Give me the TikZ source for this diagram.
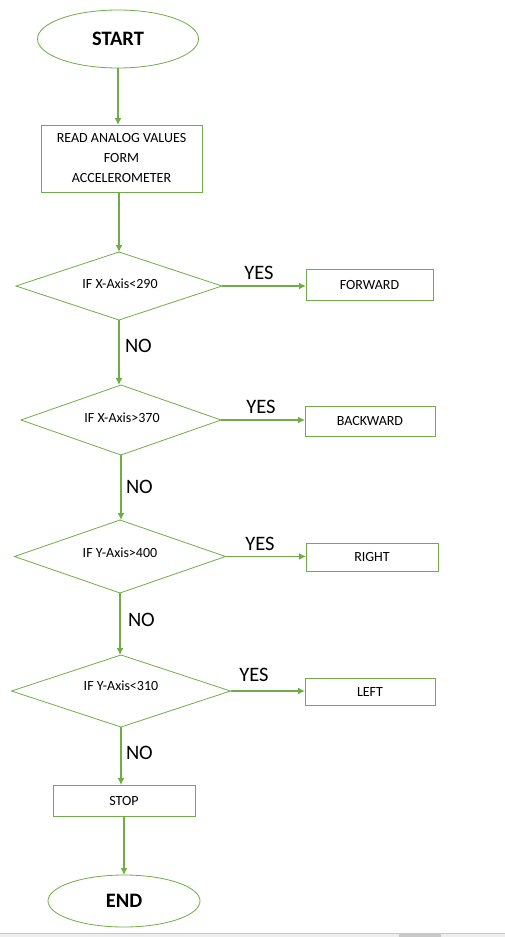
\documentclass[tikz,border=0pt]{standalone}
\usepackage{fontspec}
\setmainfont{Carlito}
\usetikzlibrary{shapes.geometric,arrows.meta}
\definecolor{ogreen}{HTML}{70AD47}
\definecolor{barline}{HTML}{C8C8C8}
\definecolor{barfill}{HTML}{EEEEEE}
\begin{document}
\begin{tikzpicture}[x=1pt,y=-1pt,
  every node/.style={inner sep=0pt,outer sep=0pt},
  term/.style={draw=ogreen,line width=0.8pt,ellipse,font=\fontsize{20.5}{24}\selectfont\bfseries},
  procbox/.style={draw=ogreen,line width=0.8pt,rectangle,font=\fontsize{14}{20}\selectfont,align=center},
  decide/.style={draw=ogreen,line width=0.8pt,diamond},
  dtext/.style={font=\fontsize{14}{16}\selectfont},
  lbl/.style={font=\fontsize{20.5}{24}\selectfont},
  flow/.style={draw=ogreen,line width=1.6pt,-{Latex[length=7pt,width=7pt]}}
]
\useasboundingbox (0,0) rectangle (505,937);
\fill[white] (0,0) rectangle (505,937);
% bottom bar (screenshot)
\fill[barfill] (0,933) rectangle (505,937);
\draw[barline,line width=0.8pt] (0,933) -- (505,933);
\fill[barline] (399,934) rectangle (441,937);

% nodes
\node[term,minimum width=161pt,minimum height=58pt] (start) at (118,39) {START};
\node[procbox,minimum width=161pt,minimum height=67pt] (read) at (121.5,158.5) {READ ANALOG VALUES\\FORM\\ACCELEROMETER};

\node[decide,minimum width=206pt,minimum height=68pt] (d1) at (119,286) {};
\node[dtext] (d1t) at (120,284) {IF X-Axis<290};
\node[procbox,minimum width=127pt,minimum height=31pt] (fwd) at (369.5,285) {FORWARD};

\node[decide,minimum width=200pt,minimum height=70pt] (d2) at (121,420) {};
\node[dtext] (d2t) at (122,418) {IF X-Axis>370};
\node[procbox,minimum width=130pt,minimum height=30pt] (bwd) at (370,421) {BACKWARD};

\node[decide,minimum width=211pt,minimum height=73pt] (d3) at (120,556.5) {};
\node[dtext] (d3t) at (120,553) {IF Y-Axis>400};
\node[procbox,minimum width=132pt,minimum height=28pt] (rgt) at (372,557) {RIGHT};

\node[decide,minimum width=219pt,minimum height=72pt] (d4) at (121,691) {};
\node[dtext] (d4t) at (121,686) {IF Y-Axis<310};
\node[procbox,minimum width=130pt,minimum height=27pt] (lft) at (370,691.5) {LEFT};

\node[procbox,minimum width=142pt,minimum height=31pt] (stop) at (124,800.5) {STOP};
\node[term,minimum width=152pt,minimum height=52pt] (end) at (124,901) {END};

% labels
\node[lbl] (y1) at (259,273) {YES};
\node[lbl] (y2) at (261,407) {YES};
\node[lbl] (y3) at (260,544) {YES};
\node[lbl] (y4) at (254,675) {YES};
\node[lbl,anchor=west] (n1) at (125,346) {NO};
\node[lbl,anchor=west] (n2) at (126,487) {NO};
\node[lbl,anchor=west] (n3) at (128,620) {NO};
\node[lbl,anchor=west] (n4) at (126,753) {NO};

% connectors
\draw[flow] (start.south) -- (start.south |- read.north);
\draw[flow] (d1.north |- read.south) -- (d1.north);
\draw[flow] (d1.east) -- (d1.east -| fwd.west);
\draw[flow] (d1.south) -- (d1.south |- d2.north);
\draw[flow] (d2.east) -- (d2.east -| bwd.west);
\draw[flow] (d2.south) -- (d2.south |- d3.north);
\draw[flow] (d3.east) -- (d3.east -| rgt.west);
\draw[flow] (d3.south) -- (d3.south |- d4.north);
\draw[flow] (d4.east) -- (d4.east -| lft.west);
\draw[flow] (d4.south) -- (d4.south |- stop.north);
\draw[flow] (stop.south) -- (stop.south |- end.north);
\end{tikzpicture}
\end{document}
